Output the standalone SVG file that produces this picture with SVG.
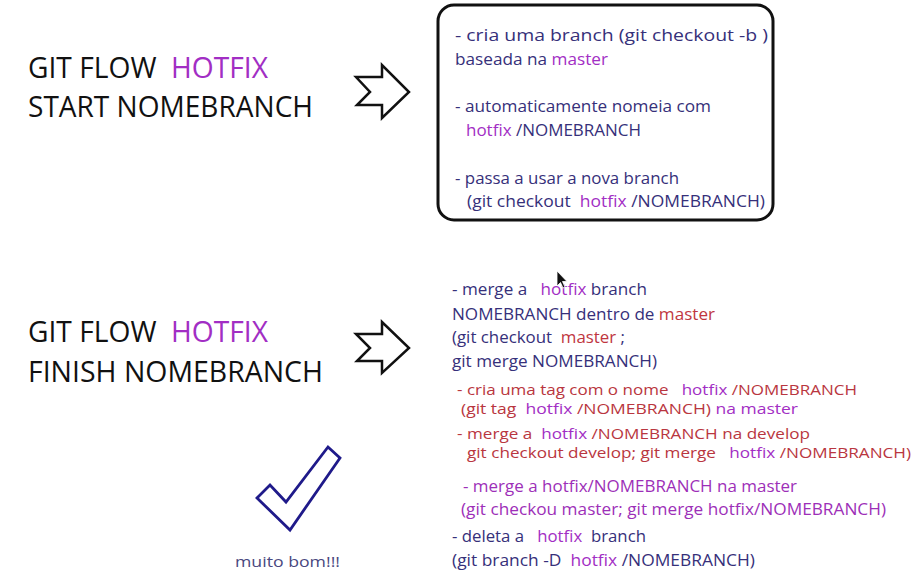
<svg xmlns="http://www.w3.org/2000/svg" width="924" height="584" viewBox="0 0 924 584">
<style>
text{font-family:"Open Sans","Noto Sans",sans-serif;white-space:pre}
.t{font-size:29px;fill:#111}
.s{font-size:15.5px;fill:#36307a}
.c{font-size:14px}
.p{fill:#a22ec4}
.r{fill:#c0363f}
.rl{fill:#b93640}
.pl{fill:#9d2fb8}
.arrow{fill:#fff;stroke:#111;stroke-width:2.5;stroke-linejoin:miter}
</style>
<rect width="924" height="584" fill="#fff"/>
<g id="title-start">
<text class="t" x="28" y="78" textLength="240" lengthAdjust="spacingAndGlyphs">GIT FLOW  <tspan class="p">HOTFIX</tspan></text>
<text class="t" x="28" y="117" textLength="285" lengthAdjust="spacingAndGlyphs">START NOMEBRANCH</text>
</g>
<g id="title-finish">
<text class="t" x="28" y="342" textLength="240" lengthAdjust="spacingAndGlyphs">GIT FLOW  <tspan class="p">HOTFIX</tspan></text>
<text class="t" x="28" y="382" textLength="295" lengthAdjust="spacingAndGlyphs">FINISH NOMEBRANCH</text>
</g>
<g id="connectors">
<path id="arrow-start" class="arrow" d="M356,77 L382,77 L382,65 L409,92 L382,118 L382,105 L357,105 L370,92 Z"/>
<path id="arrow-finish" class="arrow" d="M356,334 L382,334 L382,322 L409,348 L382,373 L382,361 L357,361 L370,348 Z"/>
</g>
<g id="start-box">
<rect x="438" y="5" width="335" height="215" rx="16" fill="#fff" stroke="#111" stroke-width="3"/>
<text class="s" x="455" y="41" textLength="313" lengthAdjust="spacingAndGlyphs">- cria uma branch (git checkout -b )</text>
<text class="s" x="455" y="65" textLength="153" lengthAdjust="spacingAndGlyphs">baseada na <tspan class="p">master</tspan></text>
<text class="s" x="455" y="112" textLength="256" lengthAdjust="spacingAndGlyphs">- automaticamente nomeia com</text>
<text class="s" x="466" y="136" textLength="175" lengthAdjust="spacingAndGlyphs"><tspan class="p">hotfix</tspan> /NOMEBRANCH</text>
<text class="s" x="455" y="184" textLength="224" lengthAdjust="spacingAndGlyphs">- passa a usar a nova branch</text>
<text class="s" x="467" y="207" textLength="298" lengthAdjust="spacingAndGlyphs">(git checkout  <tspan class="p">hotfix</tspan> /NOMEBRANCH)</text>
</g>
<g id="finish-notes">
<text class="s" x="452" y="295" textLength="195" lengthAdjust="spacingAndGlyphs">- merge a   <tspan class="p">hotfix</tspan> branch</text>
<text class="s" x="452" y="320" textLength="263" lengthAdjust="spacingAndGlyphs">NOMEBRANCH dentro de <tspan class="r">master</tspan></text>
<text class="s" x="452" y="343" textLength="173" lengthAdjust="spacingAndGlyphs">(git checkout  <tspan class="r">master</tspan> ;</text>
<text class="s" x="452" y="367" textLength="205" lengthAdjust="spacingAndGlyphs">git merge NOMEBRANCH)</text>
<text class="s c rl" x="457" y="395" textLength="400" lengthAdjust="spacingAndGlyphs">- cria uma tag com o nome   <tspan class="p">hotfix</tspan> /NOMEBRANCH</text>
<text class="s c rl" x="461" y="414" textLength="337" lengthAdjust="spacingAndGlyphs">(git tag  <tspan class="p">hotfix</tspan> /NOMEBRANCH) <tspan class="p">na master</tspan></text>
<text class="s c rl" x="457" y="439" textLength="353" lengthAdjust="spacingAndGlyphs">- merge a  <tspan class="p">hotfix</tspan> /NOMEBRANCH na develop</text>
<text class="s c rl" x="467" y="458" textLength="444" lengthAdjust="spacingAndGlyphs">git checkout develop; git merge   <tspan class="p">hotfix</tspan> /NOMEBRANCH)</text>
<text class="s pl" x="463" y="492" textLength="334" lengthAdjust="spacingAndGlyphs">- merge a hotfix/NOMEBRANCH na master</text>
<text class="s pl" x="461" y="515" textLength="425" lengthAdjust="spacingAndGlyphs">(git checkou master; git merge hotfix/NOMEBRANCH)</text>
<text class="s" x="452" y="542" textLength="194" lengthAdjust="spacingAndGlyphs">- deleta a   <tspan class="p">hotfix</tspan>  branch</text>
<text class="s" x="452" y="566" textLength="303" lengthAdjust="spacingAndGlyphs">(git branch -D  <tspan class="p">hotfix</tspan> /NOMEBRANCH)</text>
<path id="cursor" d="M557,271 L557,286 L560.5,282.5 L563,288 L565,287 L562.5,281.5 L567,281.5 Z" fill="#111" stroke="#fff" stroke-width="0.8"/>
</g>
<g id="checkmark">
<path d="M257,498 L270,485 L286,502 L328,447 L340,458 L290,530 Z" fill="none" stroke="#1f1a8a" stroke-width="2.8" stroke-linejoin="miter"/>
<text x="235" y="567" font-size="14" fill="#4a4880" textLength="105" lengthAdjust="spacingAndGlyphs">muito bom!!!</text>
</g>
</svg>
